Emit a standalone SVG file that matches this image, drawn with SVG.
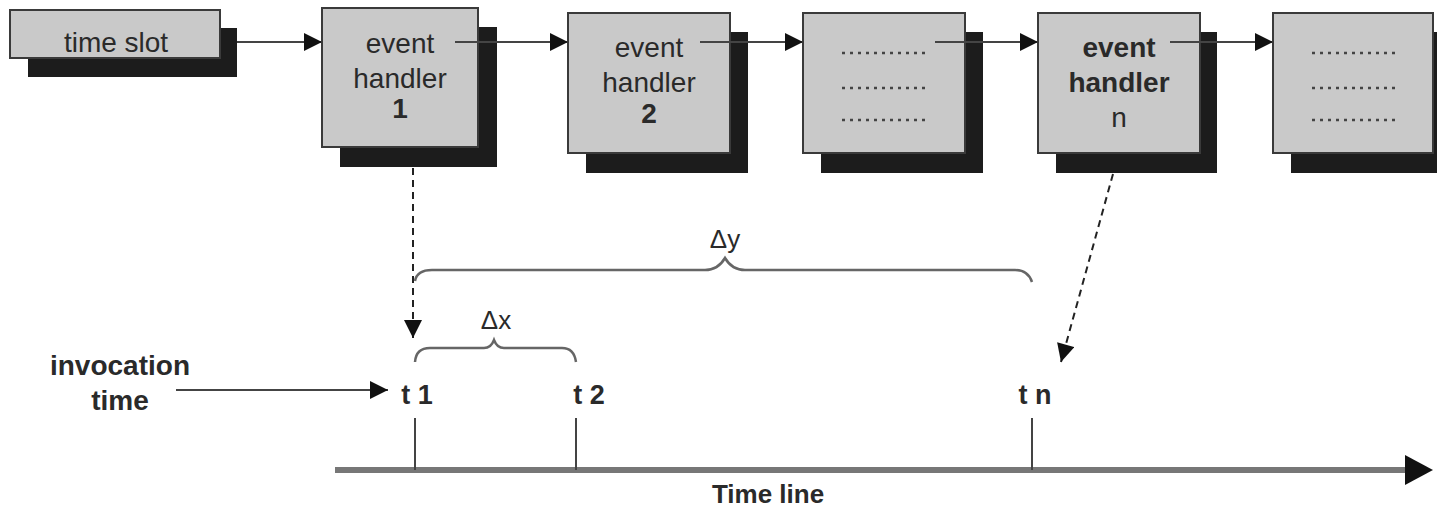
<svg xmlns="http://www.w3.org/2000/svg" width="1437" height="510" viewBox="0 0 1437 510">
<style>
.front{fill:#c9c9c9;stroke:#3a3a3a;stroke-width:2}
.shadow{fill:#1c1c1c}
.t{font-family:"Liberation Sans",Arial,sans-serif;fill:#2a2a2a;text-anchor:middle}
.bt{font-size:28px}
.b{font-weight:bold}
.dots{stroke:#444;stroke-width:2.5;stroke-dasharray:3,5}
.conn{stroke:#444;stroke-width:2;fill:none}
.dash{stroke:#222;stroke-width:2;stroke-dasharray:7,5;fill:none}
.brace{stroke:#666;stroke-width:2.5;fill:none}
.tick{stroke:#444;stroke-width:2}
</style>
<defs>
<marker id="ah" viewBox="0 0 10 10" refX="10" refY="5" markerWidth="19" markerHeight="18" markerUnits="userSpaceOnUse" orient="auto">
<path d="M0,0 L10,5 L0,10 z" fill="#111"/>
</marker>
</defs>
<g id="time-slot">
<rect class="shadow" x="28" y="28" width="209" height="49"/>
<rect class="front" x="10" y="10" width="210" height="48"/>
<text class="t" x="116" y="52" font-size="28">time slot</text>
</g>
<g id="event-handler-1">
<rect class="shadow" x="340" y="27" width="157" height="140"/>
<rect class="front" x="322" y="8" width="156" height="139"/>
<text class="t bt" x="400" y="53">event</text>
<text class="t bt" x="400" y="88">handler</text>
<text class="t bt b" x="400" y="118">1</text>
</g>
<g id="event-handler-2">
<rect class="shadow" x="586" y="32" width="162" height="141"/>
<rect class="front" x="568" y="13" width="162" height="140"/>
<text class="t bt" x="649" y="57">event</text>
<text class="t bt" x="649" y="92">handler</text>
<text class="t bt b" x="649" y="123">2</text>
</g>
<g id="placeholder-1">
<rect class="shadow" x="821" y="32" width="162" height="141"/>
<rect class="front" x="803" y="13" width="162" height="140"/>
<line class="dots" x1="842" y1="53" x2="928" y2="53"/>
<line class="dots" x1="842" y1="88" x2="928" y2="88"/>
<line class="dots" x1="842" y1="120" x2="928" y2="120"/>
</g>
<g id="event-handler-n">
<rect class="shadow" x="1056" y="32" width="161" height="141"/>
<rect class="front" x="1038" y="13" width="162" height="140"/>
<text class="t bt b" x="1119" y="57">event</text>
<text class="t bt b" x="1119" y="92">handler</text>
<text class="t bt" x="1119" y="127">n</text>
</g>
<g id="placeholder-2">
<rect class="shadow" x="1291" y="32" width="170" height="141"/>
<rect class="front" x="1273" y="13" width="160" height="140"/>
<line class="dots" x1="1312" y1="53" x2="1397" y2="53"/>
<line class="dots" x1="1312" y1="88" x2="1397" y2="88"/>
<line class="dots" x1="1312" y1="120" x2="1397" y2="120"/>
</g>
<g id="timeline">
<line x1="335" y1="470" x2="1410" y2="470" stroke="#777" stroke-width="6"/>
<polygon points="1405,455 1433,470 1405,485" fill="#111"/>
<line class="tick" x1="415" y1="418" x2="415" y2="470"/>
<line class="tick" x1="576" y1="418" x2="576" y2="470"/>
<line class="tick" x1="1032" y1="418" x2="1032" y2="470"/>
<text class="t b" x="768" y="503" font-size="26">Time line</text>
<text class="t b" x="417" y="404" font-size="27">t 1</text>
<text class="t b" x="589" y="404" font-size="27">t 2</text>
<text class="t b" x="1035" y="404" font-size="27">t n</text>
</g>
<g id="invocation-time">
<text class="t b" x="120" y="375" font-size="28">invocation</text>
<text class="t b" x="120" y="410" font-size="28">time</text>
</g>
<g id="braces">
<path class="brace" d="M415,281 Q417,270 432,270 L705,270 Q718,270 725,258 Q732,270 745,270 L1015,270 Q1028,270 1032,282"/>
<text class="t" x="725" y="248" font-size="26">Δy</text>
<path class="brace" d="M415,362 Q416,348 430,348 L484,348 Q491,348 494,340 Q497,348 504,348 L562,348 Q574,348 576,362"/>
<text class="t" x="496" y="329" font-size="26">Δx</text>
</g>
<g id="connectors">
<line class="conn" x1="237" y1="42" x2="322" y2="42" marker-end="url(#ah)"/>
<line class="conn" x1="455" y1="42" x2="568" y2="42" marker-end="url(#ah)"/>
<line class="conn" x1="700" y1="42" x2="803" y2="42" marker-end="url(#ah)"/>
<line class="conn" x1="935" y1="42" x2="1038" y2="42" marker-end="url(#ah)"/>
<line class="conn" x1="1170" y1="42" x2="1273" y2="42" marker-end="url(#ah)"/>
<line class="dash" x1="413" y1="168" x2="413" y2="338" marker-end="url(#ah)"/>
<line class="dash" x1="1113" y1="174" x2="1061" y2="362" marker-end="url(#ah)"/>
<line class="conn" x1="176" y1="390" x2="388" y2="390" marker-end="url(#ah)"/>
</g>
</svg>
